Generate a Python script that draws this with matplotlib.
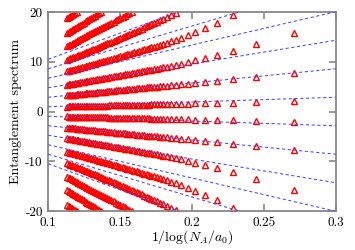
import numpy as np
import matplotlib
matplotlib.use("Agg")
import matplotlib.pyplot as plt

plt.rcParams['font.family'] = 'cmr10'
plt.rcParams['mathtext.fontset'] = 'cm'
plt.rcParams['axes.unicode_minus'] = False

# block sizes N_A (x axis is 1/log(N_A/a0))
N_A = [40, 60, 80, 100, 120, 140, 160, 180, 200, 220,
       240, 260, 280, 300, 320, 340, 360, 380, 400, 430,
       460, 490, 520, 560, 600, 640, 680, 730, 780, 840,
       900, 970, 1040, 1120, 1200, 1300, 1400, 1500, 1620, 1750,
       1900, 2050, 2200, 2400, 2600, 2800, 3050, 3300, 3600, 3900,
       4250, 4600, 5000, 5450, 5900, 6400, 7000]

# positive entanglement levels (spectrum is symmetric), each level ends at N_A = 7000
spec_0 = [2.10, 1.91, 1.80, 1.73, 1.67, 1.62, 1.59, 1.55, 1.53, 1.50,
          1.48, 1.47, 1.45, 1.43, 1.42, 1.41, 1.40, 1.39, 1.38, 1.36,
          1.35, 1.34, 1.33, 1.31, 1.30, 1.29, 1.28, 1.27, 1.26, 1.25,
          1.24, 1.23, 1.22, 1.21, 1.20, 1.19, 1.18, 1.17, 1.16, 1.15,
          1.14, 1.13, 1.12, 1.11, 1.10, 1.09, 1.08, 1.07, 1.06, 1.06,
          1.05, 1.04, 1.03, 1.02, 1.02, 1.01, 1.00]
spec_1 = [7.81, 6.91, 6.45, 6.13, 5.90, 5.71, 5.55, 5.43, 5.32, 5.24,
          5.17, 5.12, 5.07, 5.02, 4.97, 4.93, 4.89, 4.85, 4.81, 4.75,
          4.70, 4.65, 4.61, 4.55, 4.50, 4.46, 4.42, 4.37, 4.32, 4.28,
          4.23, 4.19, 4.15, 4.10, 4.06, 4.02, 3.98, 3.94, 3.90, 3.86,
          3.81, 3.78, 3.74, 3.70, 3.66, 3.63, 3.59, 3.55, 3.52, 3.48,
          3.45, 3.41, 3.38, 3.35, 3.32, 3.29, 3.25]
spec_2 = [15.70, 13.47, 12.21, 11.37, 10.76, 10.29, 9.92, 9.60, 9.34, 9.16,
          9.00, 8.86, 8.74, 8.62, 8.52, 8.42, 8.33, 8.25, 8.17, 8.07,
          7.97, 7.89, 7.80, 7.71, 7.62, 7.54, 7.46, 7.37, 7.30, 7.21,
          7.13, 7.05, 6.97, 6.89, 6.82, 6.74, 6.67, 6.60, 6.53, 6.45,
          6.38, 6.31, 6.25, 6.18, 6.11, 6.05, 5.98, 5.92, 5.85, 5.79,
          5.73, 5.67, 5.61, 5.55, 5.50, 5.44, 5.39]
spec_3 = [19.31, 17.75, 16.75, 16.02, 15.37, 14.84, 14.40, 14.10,
          13.85, 13.62, 13.41, 13.23, 13.06, 12.90, 12.76, 12.63, 12.50, 12.33,
          12.18, 12.04, 11.91, 11.75, 11.61, 11.47, 11.35, 11.22, 11.09, 10.95,
          10.83, 10.70, 10.57, 10.45, 10.34, 10.21, 10.09, 9.98, 9.87, 9.75,
          9.64, 9.53, 9.43, 9.31, 9.21, 9.11, 9.01, 8.91, 8.80, 8.71,
          8.61, 8.52, 8.43, 8.34, 8.25, 8.17, 8.08]
spec_4 = [19.87, 19.41,
          19.01, 18.65, 18.34, 18.05, 17.79, 17.55, 17.33, 17.13, 16.94, 16.68,
          16.45, 16.24, 16.04, 15.80, 15.58, 15.39, 15.21, 15.00, 14.81, 14.60,
          14.42, 14.22, 14.04, 13.86, 13.69, 13.50, 13.33, 13.17, 13.00, 12.83,
          12.66, 12.50, 12.36, 12.19, 12.04, 11.90, 11.75, 11.61, 11.45, 11.32,
          11.18, 11.05, 10.92, 10.79, 10.67, 10.55, 10.42]
spec_5 = [20.00, 19.74, 19.50, 19.28, 19.03, 18.80, 18.54,
          18.31, 18.07, 17.85, 17.61, 17.40, 17.16, 16.95, 16.75, 16.53, 16.32,
          16.09, 15.89, 15.71, 15.49, 15.29, 15.11, 14.90, 14.72, 14.52, 14.34,
          14.15, 13.98, 13.80, 13.62, 13.46, 13.30, 13.12]
spec_6 = [20.01, 19.76, 19.52,
          19.26, 19.03, 18.81, 18.56, 18.33, 18.12, 17.88, 17.67, 17.44, 17.23,
          17.01, 16.82, 16.61, 16.40, 16.22, 16.03, 15.83]
spec_7 = [20.05, 19.84, 19.63, 19.42, 19.23, 19.04, 18.83]

# slopes of the dashed CFT lines, +/-(2k+1) levels
line_slopes = [9.55, 28.65, 47.75, 66.85, 85.95, 105.05]

x = 1.0 / np.log(np.array(N_A, dtype=float))

fig = plt.figure(figsize=(3.55, 2.5), dpi=100)
ax = fig.add_axes([0.136, 0.156, 0.810, 0.796])

for lev in [spec_0, spec_1, spec_2, spec_3, spec_4, spec_5, spec_6, spec_7]:
    v = np.array(lev)
    xs = x[-len(v):]
    for sgn in (1, -1):
        ax.plot(xs, sgn * v, ls='none', marker='^', ms=3.8, mfc='none',
                mec='#ff0000', mew=1.0, zorder=2)

xl = np.array([0.1, 0.3])
for s in line_slopes:
    for sgn in (1, -1):
        ax.plot(xl, sgn * s * xl, ls=(0, (3, 2.5)), color='#4646ff', lw=0.75, zorder=3)

ax.set_xlim(0.1, 0.3)
ax.set_ylim(-20, 20)
ax.set_xticks([0.1, 0.15, 0.2, 0.25, 0.3])
ax.set_xticklabels(['0.1', '0.15', '0.2', '0.25', '0.3'])
ax.set_yticks([-20, -10, 0, 10, 20])
ax.tick_params(direction='in', top=True, right=True, length=5, width=1.2,
               color='#888888', labelsize=9.5, pad=4)
for sp in ax.spines.values():
    sp.set_color('#888888')
    sp.set_linewidth(1.3)

ax.set_xlabel(r'$1/\log(N_A/a_0)$', fontsize=10, labelpad=0)
ax.set_ylabel('Entanglement spectrum', fontsize=10, labelpad=2)

fig.savefig('out.png', dpi=100)
